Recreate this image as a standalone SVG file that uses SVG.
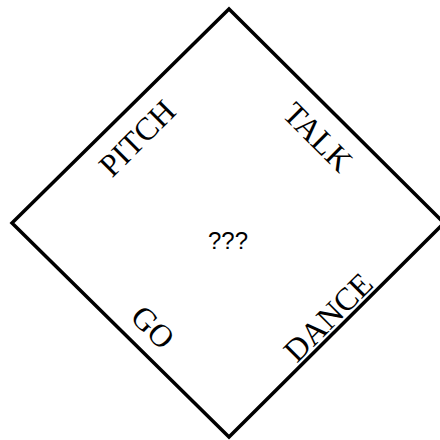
<svg xmlns="http://www.w3.org/2000/svg" width="440" height="440" viewBox="0 0 440 440">
<style>
.edge{fill:none;stroke:#000;stroke-width:3.5;stroke-linejoin:miter}
.lbl{font-family:"Liberation Serif","DejaVu Serif",serif;font-size:32px;fill:#000;text-anchor:middle}
.c{font-family:"Liberation Sans",Arial,sans-serif;font-size:24px;fill:#000;text-anchor:middle}
</style>
<rect width="440" height="440" fill="#fff"/>
<g id="connectors">
<polygon class="edge" points="229,9 444,223 229,437 12,223"/>
</g>
<g id="pitch"><text class="lbl" transform="translate(137,138) rotate(-45)" y="11">PITCH</text></g>
<g id="talk"><text class="lbl" transform="translate(318,137) rotate(45)" y="11">TALK</text></g>
<g id="go"><text class="lbl" transform="translate(153,327) rotate(45)" y="11">GO</text></g>
<g id="dance"><text class="lbl" transform="translate(328,317) rotate(-45)" y="11">DANCE</text></g>
<g id="center"><text class="c" x="228" y="249">???</text></g>
</svg>
